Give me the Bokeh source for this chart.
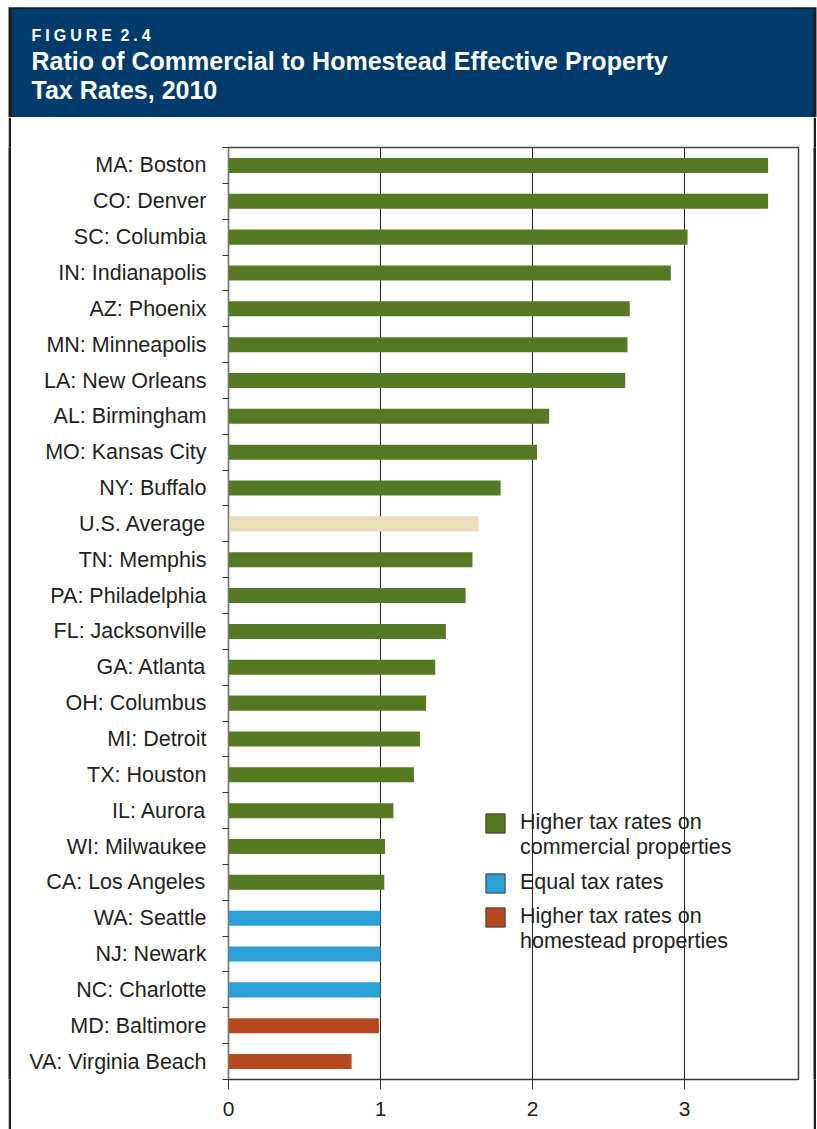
from bokeh.plotting import figure
from bokeh.layouts import column, row
from bokeh.models import (Range1d, FixedTicker, BoxAnnotation, Label, Legend,
                          LegendItem, ColumnDataSource)
from bokeh.embed import file_html
from bokeh.resources import INLINE

cities = ["MA: Boston", "CO: Denver", "SC: Columbia", "IN: Indianapolis",
          "AZ: Phoenix", "MN: Minneapolis", "LA: New Orleans", "AL: Birmingham",
          "MO: Kansas City", "NY: Buffalo", "U.S. Average", "TN: Memphis",
          "PA: Philadelphia", "FL: Jacksonville", "GA: Atlanta", "OH: Columbus",
          "MI: Detroit", "TX: Houston", "IL: Aurora", "WI: Milwaukee",
          "CA: Los Angeles", "WA: Seattle", "NJ: Newark", "NC: Charlotte",
          "MD: Baltimore", "VA: Virginia Beach"]
ratios = [3.55, 3.55, 3.02, 2.91, 2.64, 2.625, 2.61, 2.11, 2.03, 1.79, 1.645,
          1.605, 1.56, 1.43, 1.36, 1.30, 1.26, 1.22, 1.085, 1.03, 1.025,
          1.00, 1.00, 1.00, 0.99, 0.81]
groups = ["commercial"] * 10 + ["average"] + ["commercial"] * 10 + \
         ["equal"] * 3 + ["homestead"] * 2
x_ticks = [0, 1, 2, 3]

group_colors = {"commercial": "#567A23", "average": "#E9DDBB",
                "equal": "#2B9FD6", "homestead": "#B7491F"}
legend_lines = {"commercial": ["Higher tax rates on", "commercial properties"],
                "equal": ["Equal tax rates"],
                "homestead": ["Higher tax rates on", "homestead properties"]}

FONT = "Liberation Sans"
TXT = "#231F20"
DARK = "#1E1E1E"
HEAD = "#003B6B"
n = len(cities)
ypos = [n - i - 0.5 for i in range(n)]


def blank(w, h, xr, yr, color="white"):
    f = figure(width=w, height=h, output_backend="svg", toolbar_location=None,
               x_range=xr, y_range=yr, x_axis_type=None, y_axis_type=None,
               min_border=0, outline_line_color=None,
               background_fill_color=color, border_fill_color=color)
    f.grid.visible = False
    return f


# ---------- header ----------
HW, HH = 817, 117
hdr = blank(HW, HH, Range1d(0, HW), Range1d(HH, 0))
hdr.add_layout(BoxAnnotation(left=8, right=816, top=6.8, bottom=HH,
                             fill_color=DARK, fill_alpha=1, line_color=None))
hdr.add_layout(BoxAnnotation(left=11.5, right=813, top=8.3, bottom=HH,
                             fill_color=HEAD, fill_alpha=1, line_color=None))
hdr.add_layout(Label(x=31, y=35, text="F\u2005I\u2005G\u2005U\u2005R\u2005E\u2005 2\u2005.\u20054",
                     text_font=FONT, text_font_style="bold",
                     text_font_size="16px", text_color="white",
                     text_baseline="alphabetic"))
hdr.add_layout(Label(x=31, y=60.5,
                     text="Ratio of Commercial to Homestead Effective Property",
                     text_font=FONT, text_font_style="bold",
                     text_font_size="25px", text_color="white",
                     text_baseline="alphabetic"))
hdr.add_layout(Label(x=31, y=89.5, text="Tax Rates, 2010",
                     text_font=FONT, text_font_style="bold",
                     text_font_size="25px", text_color="white",
                     text_baseline="alphabetic"))

# ---------- side strips ----------
CH = 1129 - HH
white_gap = blank(8, CH, Range1d(0, 1), Range1d(0, 1))
left_strip = blank(3, CH, Range1d(0, 1), Range1d(0, 1), DARK)
right_strip = blank(3, CH, Range1d(0, 1), Range1d(0, 1), DARK)

# ---------- chart ----------
p = figure(width=802, height=CH, output_backend="svg", toolbar_location=None,
           x_range=Range1d(0, 3.75), y_range=Range1d(0, n),
           min_border_left=217, min_border_right=15, min_border_top=30,
           min_border_bottom=50, background_fill_color="white",
           border_fill_color="white")

legend_items = {}
for g in ["commercial", "average", "equal", "homestead"]:
    idx = [i for i in range(n) if groups[i] == g]
    src = ColumnDataSource(dict(y=[ypos[i] for i in idx],
                                r=[ratios[i] for i in idx],
                                name=[cities[i] for i in idx]))
    p.hbar(y="y", left=0, right="r", height=0.42, source=src,
           fill_color=group_colors[g], line_color=None)
    if g in legend_lines:
        # hidden twins used only to draw the legend swatches
        swatch = p.hbar(y="y", left=0, right="r", height=0.42, source=src,
                        fill_color=group_colors[g], line_color="#3A3A3A",
                        line_width=1, visible=False)
        nothing = p.hbar(y="y", left=0, right="r", height=0.42, source=src,
                         fill_alpha=0, line_alpha=0, visible=False)
        lines = legend_lines[g]
        its = [LegendItem(label=lines[0], renderers=[swatch])]
        for extra in lines[1:]:
            its.append(LegendItem(label=extra, renderers=[nothing]))
        legend_items[g] = its

legend_pos = {"commercial": (255, 219), "equal": (255, 184),
              "homestead": (255, 125)}
for g in ["commercial", "equal", "homestead"]:
    lg = Legend(items=legend_items[g], location=legend_pos[g], padding=0,
                margin=0, border_line_color=None, background_fill_alpha=0,
                inactive_fill_alpha=0, click_policy="none",
                glyph_width=24, glyph_height=24, label_standoff=13,
                spacing=0, label_text_font=FONT,
                label_text_font_size="21.5px", label_text_color=TXT)
    p.add_layout(lg)

xa = p.xaxis[0]
xa.ticker = FixedTicker(ticks=x_ticks)
xa.major_tick_out = 10
xa.major_tick_in = 0
xa.minor_tick_line_color = None
xa.axis_line_color = "#333333"
xa.major_tick_line_color = "#333333"
xa.major_label_text_font = FONT
xa.major_label_text_font_size = "21px"
xa.major_label_text_color = TXT
xa.major_label_standoff = 12

ya = p.yaxis[0]
ya.ticker = FixedTicker(ticks=ypos, minor_ticks=list(range(n + 1)))
ya.major_label_overrides = {y: c for y, c in zip(ypos, cities)}
ya.major_tick_out = 0
ya.major_tick_in = 0
ya.minor_tick_out = 6
ya.minor_tick_in = 0
ya.minor_tick_line_color = "#333333"
ya.axis_line_color = "#777777"
ya.major_label_text_font = FONT
ya.major_label_text_font_size = "21.5px"
ya.major_label_text_color = TXT
ya.major_label_standoff = 16

p.xgrid.ticker = FixedTicker(ticks=[1, 2, 3])
p.xgrid.grid_line_color = "#222222"
p.ygrid.grid_line_color = None
p.outline_line_color = "#444444"
p.outline_line_width = 1.5

layout = column(hdr, row(white_gap, left_strip, p, right_strip, spacing=0),
                spacing=0)
open("out.html", "w").write(file_html(layout, INLINE))
